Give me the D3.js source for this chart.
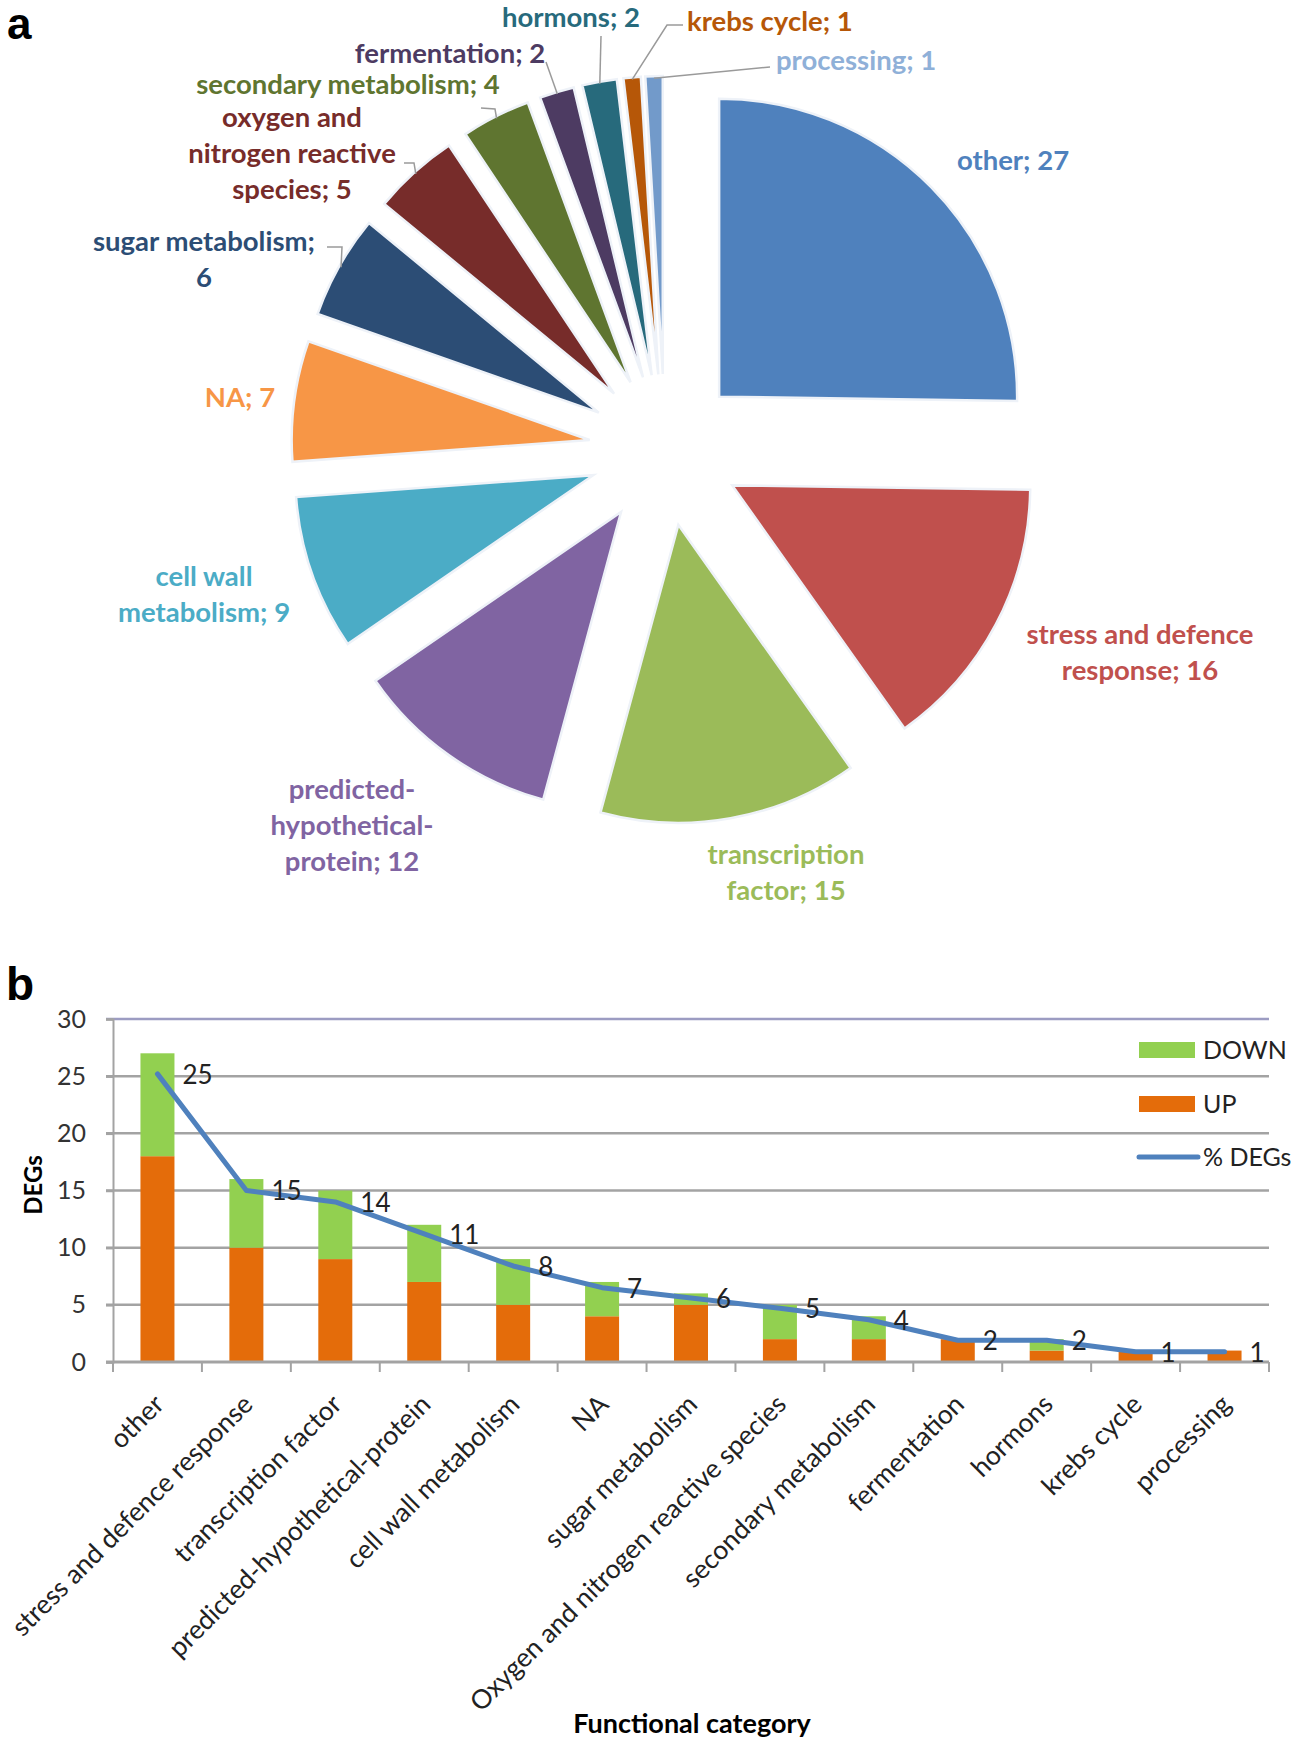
<!DOCTYPE html>
<html>
<head>
<meta charset="utf-8">
<script src="https://cdn.jsdelivr.net/npm/d3@7"></script>
<style>
  body { margin: 0; background: #fff; }
  text { font-family: Lato, "Open Sans", sans-serif; }
</style>
</head>
<body>
<svg id="mainsvg" width="1299" height="1749"></svg>
<script>
// ---- data ----
const categories = ['other', 'stress and defence response', 'transcription factor',
  'predicted-hypothetical-protein', 'cell wall metabolism', 'NA', 'sugar metabolism',
  'Oxygen and nitrogen reactive species', 'secondary metabolism', 'fermentation',
  'hormons', 'krebs cycle', 'processing'];
const pieCounts = [27, 16, 15, 12, 9, 7, 6, 5, 4, 2, 2, 1, 1];
const upVals = [18, 10, 9, 7, 5, 4, 5, 2, 2, 2, 1, 1, 1];
const downVals = [9, 6, 6, 5, 4, 3, 1, 3, 2, 0, 1, 0, 0];
const pctVals = [25.2, 15.0, 14.0, 11.2, 8.4, 6.5, 5.6, 4.7, 3.7, 1.9, 1.9, 0.9, 0.9];
const pctLabels = ['25', '15', '14', '11', '8', '7', '6', '5', '4', '2', '2', '1', '1'];
const yTicks = [0, 5, 10, 15, 20, 25, 30];
const seriesNames = ['DOWN', 'UP', '% DEGs'];

// ---- styles ----
const sliceColors = ['#4F81BD', '#C0504D', '#9BBB59', '#8064A2', '#4BACC6', '#F79646',
  '#2C4D75', '#772C2A', '#5F7530', '#4D3B62', '#276A7C', '#B65708', '#729ACA'];
const labelColors = ['#4F81BD', '#C0504D', '#9BBB59', '#8064A2', '#4BACC6', '#F79646',
  '#2C4D75', '#772C2A', '#5F7530', '#4D3B62', '#276A7C', '#B65708', '#8FB0D8'];
const upColor = '#E46C0A';
const downColor = '#92D050';
const lineColor = '#4F81BD';

// pie label layout: text lines, centre of first line, optional leader elbow
const pieLabels = [
  {lines: ['other; 27'], x: 1013, y: 160},
  {lines: ['stress and defence', 'response; 16'], x: 1140, y: 634},
  {lines: ['transcription', 'factor; 15'], x: 786, y: 854},
  {lines: ['predicted-', 'hypothetical-', 'protein; 12'], x: 352, y: 789},
  {lines: ['cell wall', 'metabolism; 9'], x: 204, y: 576},
  {lines: ['NA; 7'], x: 240, y: 397},
  {lines: ['sugar metabolism;', '6'], x: 204, y: 241, leader: [[327, 247], [342, 247]]},
  {lines: ['oxygen and', 'nitrogen reactive', 'species; 5'], x: 292, y: 117, leader: [[404, 163], [414, 163]]},
  {lines: ['secondary metabolism; 4'], x: 348, y: 84, leader: [[481, 108], [495, 109]]},
  {lines: ['fermentation; 2'], x: 450, y: 53, leader: [[546, 62]]},
  {lines: ['hormons; 2'], x: 571, y: 17, leader: [[601, 36]]},
  {lines: ['krebs cycle; 1'], x: 687, y: 21, anchor: 'start', leader: [[683, 25], [667, 25]]},
  {lines: ['processing; 1'], x: 776, y: 60, anchor: 'start', leader: [[770, 67]]}
];

const svg = d3.select('#mainsvg');

// panel letters
svg.append('text').attr('x', 7).attr('y', 39).text('a')
  .style('font-family', '"Liberation Sans", Arial, sans-serif')
  .style('font-size', '44px').style('font-weight', 'bold');
svg.append('text').attr('x', 6).attr('y', 1000).text('b')
  .style('font-family', '"Liberation Sans", Arial, sans-serif')
  .style('font-size', '46px').style('font-weight', 'bold');

// ---- a: exploded pie ----
const cx = 665, cy = 450, R = 298, explode = 76;
const pieGroup = svg.append('g').attr('transform', `translate(${cx},${cy})`);
const arcs = d3.pie().sort(null).value(d => d)(pieCounts);
const arc = d3.arc().innerRadius(0).outerRadius(R);

pieGroup.selectAll('path.slice').data(arcs).enter().append('path')
  .attr('class', 'slice')
  .attr('d', arc)
  .attr('transform', d => {
    const mid = (d.startAngle + d.endAngle) / 2;
    return `translate(${explode * Math.sin(mid)},${-explode * Math.cos(mid)})`;
  })
  .attr('fill', (d, i) => sliceColors[i])
  .attr('stroke', '#eef2f8')
  .attr('stroke-width', 2.5);

// leader lines
arcs.forEach((d, i) => {
  const lab = pieLabels[i];
  if (!lab.leader) return;
  const mid = (d.startAngle + d.endAngle) / 2;
  const tip = [cx + (explode + R - 2) * Math.sin(mid), cy - (explode + R - 2) * Math.cos(mid)];
  svg.append('path')
    .attr('d', d3.line()(lab.leader.concat([tip])))
    .attr('fill', 'none')
    .attr('stroke', '#9a9a9a')
    .attr('stroke-width', 1.5);
});

// pie labels
pieLabels.forEach((lab, i) => {
  const t = svg.append('text')
    .attr('text-anchor', lab.anchor || 'middle')
    .attr('fill', labelColors[i])
    .style('font-size', '27.5px')
    .style('font-weight', 'bold');
  lab.lines.forEach((ln, k) => {
    t.append('tspan').attr('x', lab.x).attr('y', lab.y + k * 36)
      .attr('dy', '0.35em').text(ln);
  });
});

// ---- b: stacked bars + line ----
const x = d3.scaleBand().domain(categories).range([113, 1269]);
const y = d3.scaleLinear().domain([0, 30]).range([1362, 1019]);
const barW = 34;
const bx = d => x(d) + x.bandwidth() / 2;

const chartGroup = svg.append('g');

// gridlines
chartGroup.selectAll('line.grid').data(yTicks.filter(t => t > 0)).enter().append('line')
  .attr('class', 'grid')
  .attr('x1', 106).attr('x2', 1269)
  .attr('y1', d => y(d)).attr('y2', d => y(d))
  .attr('stroke', d => d === 30 ? '#9c9cc2' : '#a3a3a3')
  .attr('stroke-width', 2.5);

// y axis
const yAxis = chartGroup.append('g').attr('transform', 'translate(113,0)')
  .call(d3.axisLeft(y).tickValues(yTicks).tickSize(7).tickPadding(20));
yAxis.select('.domain').attr('stroke', '#a3a3a3').attr('stroke-width', 2);
yAxis.selectAll('.tick line').attr('stroke', '#a3a3a3').attr('stroke-width', 2.5);
yAxis.selectAll('.tick text').style('font-size', '25px').attr('fill', '#333')
  .style('font-family', 'Lato, sans-serif');

// bars
chartGroup.selectAll('rect.up').data(categories).enter().append('rect')
  .attr('class', 'up')
  .attr('x', d => bx(d) - barW / 2).attr('width', barW)
  .attr('y', (d, i) => y(upVals[i]))
  .attr('height', (d, i) => y(0) - y(upVals[i]))
  .attr('fill', upColor);
chartGroup.selectAll('rect.down').data(categories).enter().append('rect')
  .attr('class', 'down')
  .attr('x', d => bx(d) - barW / 2).attr('width', barW)
  .attr('y', (d, i) => y(upVals[i] + downVals[i]))
  .attr('height', (d, i) => y(upVals[i]) - y(upVals[i] + downVals[i]))
  .attr('fill', downColor);

// x axis line + ticks at band edges
chartGroup.append('line')
  .attr('x1', 106).attr('x2', 1269).attr('y1', y(0)).attr('y2', y(0))
  .attr('stroke', '#a3a3a3').attr('stroke-width', 3);
chartGroup.selectAll('line.xtick').data(categories.map(d => x(d)).concat([x.range()[1]]))
  .enter().append('line')
  .attr('class', 'xtick')
  .attr('x1', d => d).attr('x2', d => d)
  .attr('y1', y(0)).attr('y2', y(0) + 10)
  .attr('stroke', '#a3a3a3').attr('stroke-width', 2);

// % DEGs line
chartGroup.append('path')
  .datum(pctVals)
  .attr('d', d3.line().x((d, i) => bx(categories[i])).y(d => y(d)))
  .attr('fill', 'none')
  .attr('stroke', lineColor)
  .attr('stroke-width', 5)
  .attr('stroke-linejoin', 'round')
  .attr('stroke-linecap', 'round');

chartGroup.selectAll('text.pct').data(pctLabels).enter().append('text')
  .attr('class', 'pct')
  .attr('x', (d, i) => bx(categories[i]) + 25)
  .attr('y', (d, i) => y(pctVals[i]))
  .attr('dy', '0.38em')
  .attr('fill', '#222')
  .style('font-size', '26px')
  .text(d => d);

// category labels
chartGroup.selectAll('text.cat').data(categories).enter().append('text')
  .attr('class', 'cat')
  .attr('text-anchor', 'end')
  .attr('transform', d => `translate(${bx(d) + 8},${y(0) + 44}) rotate(-45)`)
  .attr('fill', '#222')
  .style('font-size', '26.5px')
  .text(d => d);

// axis titles
chartGroup.append('text')
  .attr('transform', 'translate(42,1185) rotate(-90)')
  .attr('text-anchor', 'middle')
  .style('font-size', '24px').style('font-weight', 'bold')
  .text('DEGs');
chartGroup.append('text')
  .attr('x', 692).attr('y', 1733)
  .attr('text-anchor', 'middle')
  .style('font-size', '27px').style('font-weight', 'bold')
  .text('Functional category');

// legend
const legend = chartGroup.append('g');
const legY = [1050, 1104, 1157];
seriesNames.forEach((name, i) => {
  if (i < 2) {
    legend.append('rect')
      .attr('x', 1139).attr('y', legY[i] - 8).attr('width', 56).attr('height', 16)
      .attr('fill', i === 0 ? downColor : upColor);
  } else {
    legend.append('line')
      .attr('x1', 1139).attr('x2', 1198).attr('y1', legY[i]).attr('y2', legY[i])
      .attr('stroke', lineColor).attr('stroke-width', 5).attr('stroke-linecap', 'round');
  }
  legend.append('text')
    .attr('x', 1203).attr('y', legY[i]).attr('dy', '0.36em')
    .attr('fill', '#222')
    .style('font-size', '25px')
    .text(name);
});
</script>
</body>
</html>
